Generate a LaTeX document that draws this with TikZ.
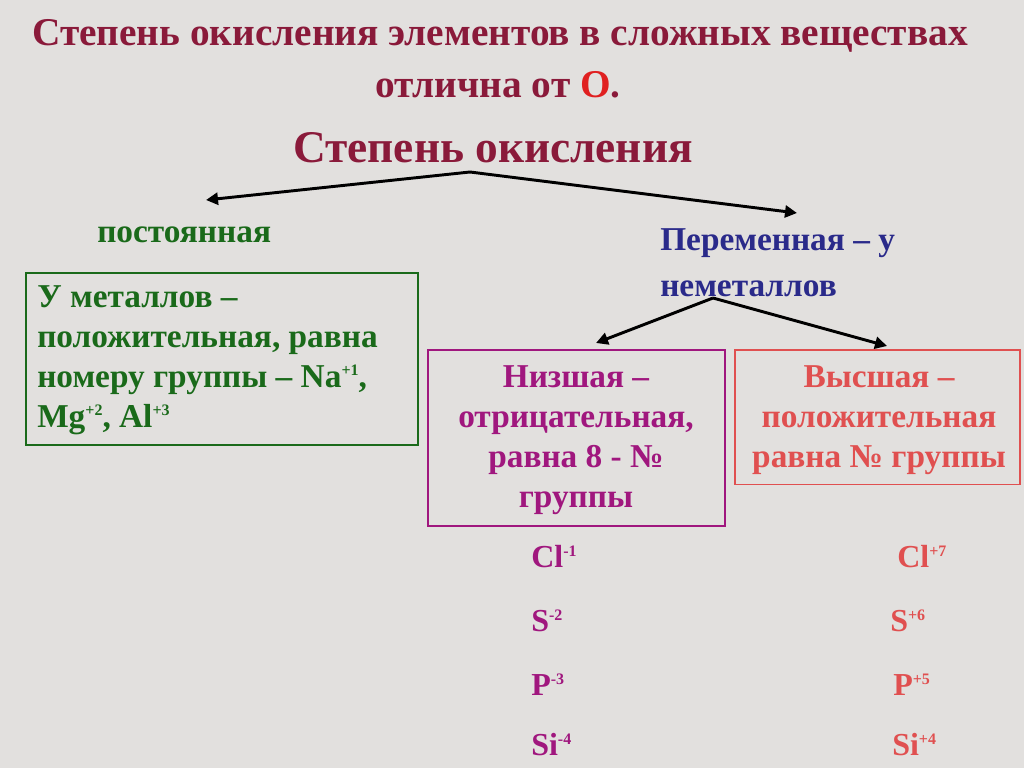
\documentclass[tikz,border=0pt]{standalone}
\usepackage{fontspec}
\setmainfont{Liberation Serif}
\usetikzlibrary{arrows.meta}
\definecolor{bg}{HTML}{E2E0DE}
\definecolor{tred}{HTML}{8A1A3A}
\definecolor{tgreen}{HTML}{1A6A1A}
\definecolor{tblue}{HTML}{2A2A8A}
\definecolor{tmag}{HTML}{A0177E}
\definecolor{tsal}{HTML}{E05050}
\definecolor{ored}{HTML}{E02020}
\newcommand{\sps}[1]{\raisebox{0.75ex}{\fontsize{12}{12}\selectfont #1}}
\begin{document}
\begin{tikzpicture}[x=0.75pt,y=-0.75pt,
  txt/.style={font=\bfseries\fontsize{25}{30}\selectfont, align=center, inner sep=0},
  arr/.style={line width=2.2pt,-{Triangle[length=9pt,width=9pt]}},
  elem/.style={font=\bfseries\fontsize{24}{25}\selectfont, inner sep=0, anchor=west}]
\fill[bg] (0,0) rectangle (1024,768);
\useasboundingbox (0,0) rectangle (1024,768);
\node[txt,font=\bfseries\fontsize{29.5}{34}\selectfont,text=tred] (t1) at (500,36) {Степень окисления элементов в сложных веществах};
\node[txt,font=\bfseries\fontsize{29.5}{34}\selectfont,text=tred] (t2) at (498,85) {отлична от \textcolor{ored}{О}.};
\node[txt,font=\bfseries\fontsize{34}{40}\selectfont,text=tred] (t3) at (493,148) {Степень окисления};
\coordinate (c1) at (470,172);
\coordinate (a1) at (206,200);
\coordinate (a2) at (797,213);
\draw[arr] (c1) -- (a1);
\draw[arr] (c1) -- (a2);
\node[txt,text=tgreen,anchor=west] (p) at (97,235) {постоянная};
\node[txt,text=tblue,align=left,anchor=north west,font=\bfseries\fontsize{25}{35}\selectfont] (v) at (660,228) {Переменная – у\\неметаллов};
\node[draw=tgreen,line width=1.8pt,anchor=north west,inner sep=0,minimum width=294pt,minimum height=129pt] (g) at (25,272) {};
\node[txt,text=tgreen,align=left,anchor=north west] (gt) at (37,285) {У металлов –\\положительная, равна\\номеру группы – Na\sps{+1},\\Mg\sps{+2}, Al\sps{+3}};
\coordinate (c2) at (713,298);
\coordinate (b1) at (596,343);
\coordinate (b2) at (887,346);
\draw[arr] (c2) -- (b1);
\draw[arr] (c2) -- (b2);
\node[draw=tmag,line width=1.2pt,anchor=north west,inner sep=0,minimum width=223pt,minimum height=132pt] (m) at (427,349) {};
\node[txt,text=tmag] (mt) at (576,440) {Низшая –\\отрицательная,\\равна 8 - №\\группы};
\node[draw=tsal,line width=1.2pt,anchor=north west,inner sep=0,minimum width=214pt,minimum height=101pt] (s) at (734,349) {};
\node[txt,text=tsal] (st) at (879,420) {Высшая –\\положительная\\равна № группы};
\node[elem,text=tmag] (e1) at (531,557) {Cl\sps{-1}};
\node[elem,text=tmag] (e2) at (531,621) {S\sps{-2}};
\node[elem,text=tmag] (e3) at (531,685) {P\sps{-3}};
\node[elem,text=tmag] (e4) at (531,745) {Si\sps{-4}};
\node[elem,text=tsal] (f1) at (897,557) {Cl\sps{+7}};
\node[elem,text=tsal] (f2) at (890,621) {S\sps{+6}};
\node[elem,text=tsal] (f3) at (893,685) {P\sps{+5}};
\node[elem,text=tsal] (f4) at (892,745) {Si\sps{+4}};
\end{tikzpicture}
\end{document}
